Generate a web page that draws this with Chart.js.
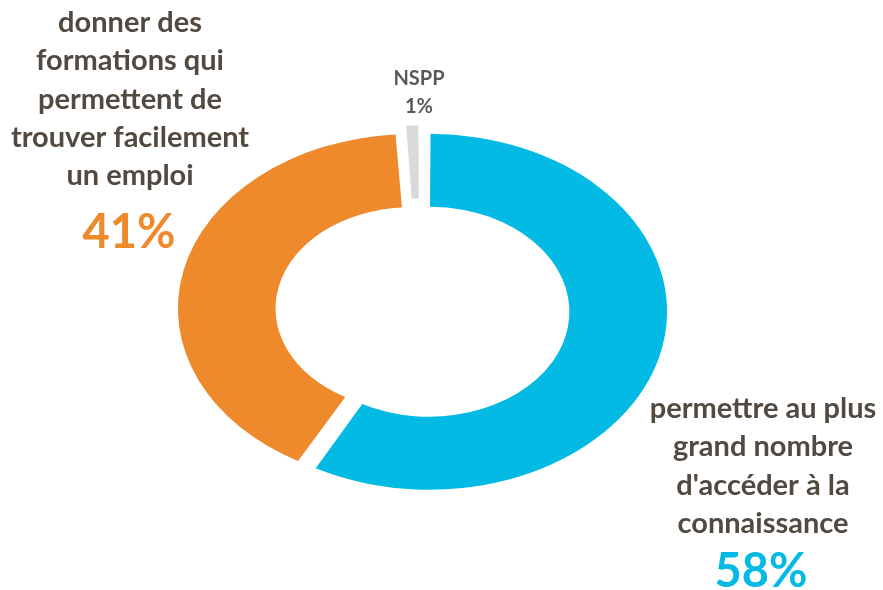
<!DOCTYPE html>
<html>
<head>
<meta charset="utf-8">
<script src="https://cdn.jsdelivr.net/npm/chart.js@4/dist/chart.umd.min.js"></script>
<style>
  html, body { margin: 0; padding: 0; background: #fff; }
  #wrap { position: relative; width: 883px; height: 590px; }
</style>
</head>
<body>
<div id="wrap"><canvas id="chart-donut"></canvas></div>
<script>
// categories and values, clockwise from the top
const categories = [
  "permettre au plus grand nombre d'accéder à la connaissance",
  'donner des formations qui permettent de trouver facilement un emploi',
  'NSPP'
];
const values = [58, 41, 1];
const sliceColors = ['#02BAE3', '#EE892C', '#D9D9D9'];

// wrapped label lines as printed in the picture
const blueLines = ['permettre au plus', 'grand nombre', "d'accéder à la", 'connaissance'];
const orangeLines = ['donner des', 'formations qui', 'permettent de', 'trouver facilement', 'un emploi'];
const grayLines = ['NSPP'];

const TEXT = '#524941';
const FONT = 'Lato, "Open Sans", sans-serif';
const STRETCH_X = 1.337;   // the donut in the picture is an ellipse

/* ── squash the circle into an ellipse ── */
const ellipsePlugin = {
  id: 'ellipse',
  beforeDatasetsDraw(chart) {
    const arc = chart.getDatasetMeta(0).data[0];
    const c = chart.ctx;
    c.save();
    c.translate(arc.x, arc.y);
    c.scale(STRETCH_X, 1);
    c.translate(-arc.x, -arc.y);
  },
  afterDatasetsDraw(chart) {
    chart.ctx.restore();
  }
};

/* ── labels ── */
const labelPlugin = {
  id: 'donutLabels',
  afterDraw(chart) {
    const c = chart.ctx;
    c.save();
    c.textAlign = 'center';
    c.textBaseline = 'alphabetic';

    c.fillStyle = TEXT;
    c.font = 'bold 29px ' + FONT;
    orangeLines.forEach((t, i) => c.fillText(t, 130, 32 + i * 38.3));
    blueLines.forEach((t, i) => c.fillText(t, 763, 418 + i * 38.3));

    c.font = 'bold 47px ' + FONT;
    c.fillStyle = sliceColors[1];
    c.fillText(values[1] + '%', 129, 248);
    c.fillStyle = sliceColors[0];
    c.fillText(values[0] + '%', 761, 587);

    c.fillStyle = '#595959';
    c.font = 'bold 20px ' + FONT;
    c.fillText(grayLines[0], 419, 85);
    c.fillText(values[2] + '%', 419, 113);
    c.restore();
  }
};

new Chart(document.getElementById('chart-donut'), {
  type: 'doughnut',
  data: {
    labels: categories,
    datasets: [{
      data: values,
      backgroundColor: sliceColors,
      borderWidth: 0,
      offset: 28,
      hoverOffset: 0,
      clip: false
    }]
  },
  options: {
    responsive: true,
    maintainAspectRatio: false,
    animation: false,
    events: [],
    radius: 171,
    cutout: '57.3%',
    layout: { padding: { left: 0, right: 43, top: 30, bottom: 0 } },
    plugins: {
      legend: { display: false },
      tooltip: { enabled: false }
    }
  },
  plugins: [ellipsePlugin, labelPlugin]
});
</script>
</body>
</html>
